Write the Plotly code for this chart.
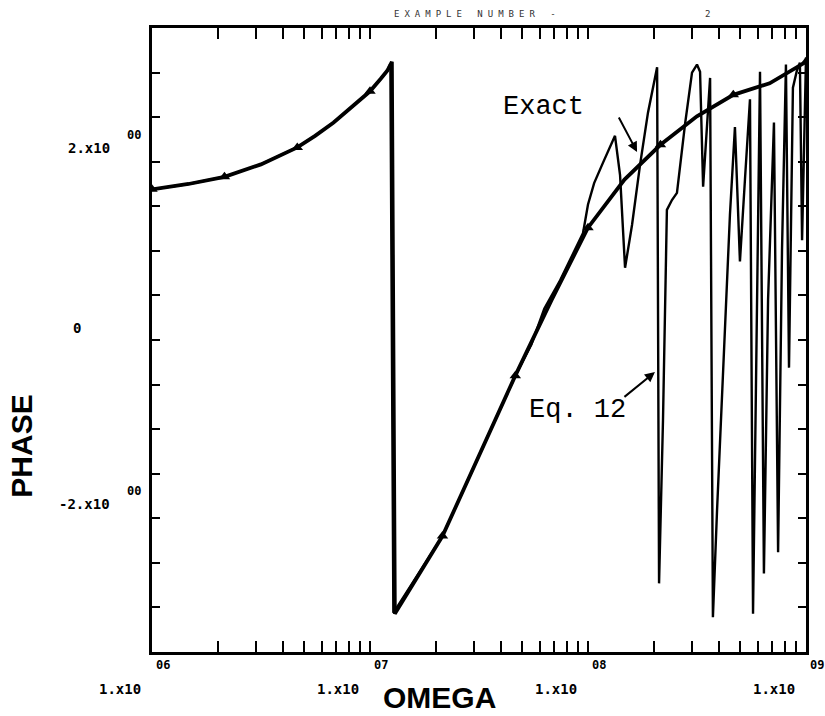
import plotly.graph_objects as go

# Exact phase response (radians) against angular frequency
exact_omega = [1.00e6, 1.47e6, 2.15e6, 3.16e6, 4.64e6, 5.60e6, 6.81e6, 8.25e6, 1.00e7,
               1.12e7, 1.20e7, 1.26e7, 1.30e7, 2.15e7, 3.16e7, 4.64e7, 6.81e7, 1.00e8,
               1.47e8, 2.15e8, 3.16e8, 4.64e8, 6.81e8, 1.00e9]
exact_phase = [1.69, 1.75, 1.83, 1.97, 2.16, 2.29, 2.44, 2.61, 2.79,
               2.93, 3.02, 3.12, -3.07, -2.20, -1.30, -0.40, 0.45, 1.26,
               1.80, 2.19, 2.51, 2.75, 2.88, 3.12]
# samples that carry a triangle marker (one every third of a decade)
marker_index = [0, 2, 4, 8, 13, 15, 17, 19, 21, 23]

# Phase from Eq. 12 approximation
eq12_omega = [1.00e6, 1.47e6, 2.15e6, 3.16e6, 4.64e6, 5.60e6, 6.81e6, 8.25e6, 1.00e7,
              1.12e7, 1.20e7, 1.24e7, 1.28e7, 2.15e7, 3.16e7, 4.64e7, 5.50e7, 6.30e7,
              7.45e7, 9.49e7, 1.00e8, 1.067e8, 1.172e8, 1.33e8, 1.403e8, 1.479e8,
              1.592e8, 1.734e8, 1.884e8, 2.075e8, 2.118e8, 2.208e8, 2.301e8, 2.427e8,
              2.559e8, 2.786e8, 3.00e8, 3.162e8, 3.266e8, 3.373e8, 3.631e8, 3.741e8,
              3.908e8, 4.121e8, 4.477e8, 4.721e8, 4.977e8, 5.248e8, 5.534e8, 5.715e8,
              5.957e8, 6.152e8, 6.412e8, 6.699e8, 7.129e8, 7.447e8, 7.762e8, 8.091e8,
              8.356e8, 8.710e8, 9.099e8, 9.376e8, 9.594e8, 1.00e9]
eq12_phase = [1.69, 1.75, 1.83, 1.97, 2.16, 2.29, 2.44, 2.61, 2.79,
              2.93, 3.02, 3.10, -3.06, -2.20, -1.30, -0.40, -0.05, 0.35,
              0.67, 1.20, 1.52, 1.76, 1.99, 2.29, 1.85, 0.81,
              1.29, 1.97, 2.55, 3.06, -2.73, -0.90, 1.46, 1.57,
              1.65, 2.42, 3.00, 3.09, 3.01, 1.72, 2.94, -3.11,
              -1.91, -0.56, 1.40, 2.39, 0.88, 1.80, 2.70, -3.07,
              0.11, 3.01, -2.62, 0.45, 2.44, -2.38, 1.01, 3.09,
              -0.31, 2.83, 3.03, 3.11, 1.12, 3.17]

# Axis ticks and labels
x_decades = [6, 7, 8, 9]
x_tick_vals = [k * 10.0 ** d for d in (6, 7, 8) for k in range(1, 10)] + [1e9]
y_tick_vals = [-3.0, -2.5, -2.0, -1.5, -1.0, -0.5, 0.0, 0.5, 1.0, 1.5, 2.0, 2.5, 3.0]
y_labels = {2.0: ("2.x10", "00"), 0.0: ("0", ""), -2.0: ("-2.x10", "00")}

LABEL_FONT = dict(family="DejaVu Sans Mono", size=14, color="black")
EXP_FONT = dict(family="DejaVu Sans Mono", size=12, color="black")
TYPE_FONT = dict(family="Liberation Mono", size=27, color="black")
AXIS_FONT = dict(family="Liberation Sans", size=30, color="black")

fig = go.Figure()

fig.add_trace(go.Scatter(
    x=eq12_omega, y=eq12_phase, mode="lines",
    line=dict(color="black", width=2.4), showlegend=False, hoverinfo="skip"))

fig.add_trace(go.Scatter(
    x=exact_omega, y=exact_phase, mode="lines",
    line=dict(color="black", width=3.8), showlegend=False, hoverinfo="skip"))

fig.add_trace(go.Scatter(
    x=[exact_omega[i] for i in marker_index],
    y=[exact_phase[i] for i in marker_index],
    mode="markers",
    marker=dict(symbol="triangle-up", size=10, color="black"),
    showlegend=False, hoverinfo="skip"))

annotations = []

# "1.x10" mantissa with a raised two-digit exponent at each decade
for d in x_decades:
    annotations.append(dict(
        x=d, xref="x", y=0, yref="paper", text="<b>1.x10</b>", showarrow=False,
        xanchor="right", yanchor="middle", xshift=-9, yshift=-37, font=LABEL_FONT))
    annotations.append(dict(
        x=d, xref="x", y=0, yref="paper", text="<b>%02d</b>" % d, showarrow=False,
        xanchor="left", yanchor="middle", xshift=2, yshift=-13, font=EXP_FONT))

for val, (mant, expo) in y_labels.items():
    if expo:
        annotations.append(dict(
            x=0, xref="paper", y=val, yref="y", text="<b>%s</b>" % mant,
            showarrow=False, xanchor="right", yanchor="middle",
            xshift=-40, yshift=14, font=LABEL_FONT))
        annotations.append(dict(
            x=0, xref="paper", y=val, yref="y", text="<b>%s</b>" % expo,
            showarrow=False, xanchor="left", yanchor="middle",
            xshift=-27, yshift=27, font=EXP_FONT))
    else:
        annotations.append(dict(
            x=0, xref="paper", y=val, yref="y", text="<b>%s</b>" % mant,
            showarrow=False, xanchor="center", yanchor="middle",
            xshift=-75, yshift=12, font=LABEL_FONT))

# axis titles
annotations.append(dict(
    x=0.439, xref="paper", y=0, yref="paper", text="<b>OMEGA</b>",
    showarrow=False, xanchor="center", yanchor="middle", yshift=-45, font=AXIS_FONT))
annotations.append(dict(
    x=0, xref="paper", y=0.329, yref="paper", text="<b>PHASE</b>", textangle=-90,
    showarrow=False, xanchor="center", yanchor="middle", xshift=-130, font=AXIS_FONT))

# header
HEAD_FONT = dict(family="DejaVu Sans Mono", size=9, color="#333333")
annotations.append(dict(
    x=0.367, xref="paper", y=1, yref="paper",
    text='<span style="letter-spacing:5px">EXAMPLE NUMBER -</span>',
    showarrow=False, xanchor="left", yanchor="middle", yshift=14, font=HEAD_FONT))
annotations.append(dict(
    x=0.8425, xref="paper", y=1, yref="paper", text="2",
    showarrow=False, xanchor="left", yanchor="middle", yshift=14, font=HEAD_FONT))

# curve labels with pointers
annotations.append(dict(
    x=7.798, xref="x", y=2.61, yref="y", text="Exact", showarrow=False,
    xanchor="center", yanchor="middle", font=TYPE_FONT))
annotations.append(dict(
    x=8.225, xref="x", y=2.11, yref="y", text="", showarrow=True,
    ax=-19, ay=-36, arrowhead=2, arrowsize=1, arrowwidth=2, arrowcolor="black"))
annotations.append(dict(
    x=7.950, xref="x", y=-0.79, yref="y", text="Eq. 12", showarrow=False,
    xanchor="center", yanchor="middle", font=TYPE_FONT))
annotations.append(dict(
    x=8.307, xref="x", y=-0.36, yref="y", text="", showarrow=True,
    ax=-32, ay=26, arrowhead=2, arrowsize=1, arrowwidth=2, arrowcolor="black"))

fig.update_layout(
    width=825, height=716,
    margin=dict(l=152, r=19, t=28, b=64),
    paper_bgcolor="white", plot_bgcolor="white",
    showlegend=False,
    annotations=annotations,
    xaxis=dict(
        type="log", range=[6, 9], showgrid=False, zeroline=False,
        showline=True, linecolor="black", linewidth=2.8, mirror="allticks",
        ticks="inside", ticklen=11, tickwidth=2, tickcolor="black",
        tickvals=x_tick_vals, showticklabels=False),
    yaxis=dict(
        range=[-3.5, 3.5], showgrid=False, zeroline=False,
        showline=True, linecolor="black", linewidth=2.8, mirror="allticks",
        ticks="inside", ticklen=8, tickwidth=2, tickcolor="black",
        tickvals=y_tick_vals, showticklabels=False),
)

fig.write_html("out.html")
